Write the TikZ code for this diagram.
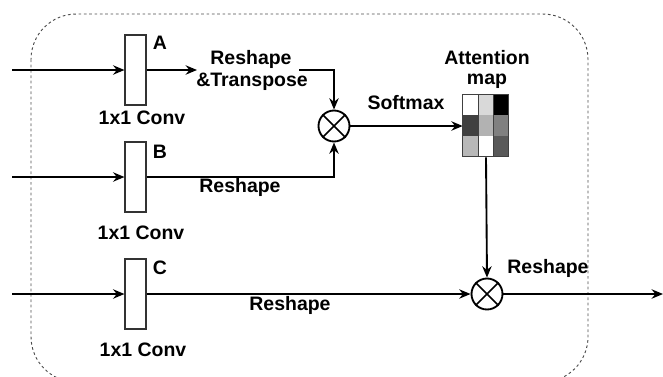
\documentclass[tikz,border=0pt]{standalone}
\usepackage{fontspec}
\setmainfont{Liberation Sans}
\usetikzlibrary{arrows.meta}
\begin{document}
\begin{tikzpicture}[x=0.75pt,y=-0.75pt,
  every node/.style={font=\fontsize{14.6}{16}\selectfont\bfseries, inner sep=0pt},
  conv/.style={draw=black!80, line width=0.8pt, minimum width=15.75pt, minimum height=52.5pt, fill=white},
  mul/.style={draw, circle, line width=1.4pt, minimum size=23.25pt},
  conn/.style={line width=1.4pt, -{Stealth[length=8.5pt,width=7pt]}},
  lbl/.style={anchor=center}
]
\useasboundingbox (0,0) rectangle (663,376);
\draw[black!70, line width=0.7pt, dash pattern=on 2pt off 2pt, rounded corners=34pt] (31,14) rectangle (588,382);

% conv boxes
\node[conv] (convA) at (135.5,70) {};
\node[conv] (convB) at (135.5,177) {};
\node[conv] (convC) at (135.5,294) {};
\node[lbl] (lA) at (160,43) {A};
\node[lbl] (lB) at (160,152) {B};
\node[lbl] (lC) at (160,268) {C};
\node[lbl] (cA) at (142,118) {1x1 Conv};
\node[lbl] (cB) at (141,233) {1x1 Conv};
\node[lbl] (cC) at (143,350) {1x1 Conv};

% inputs
\coordinate (inA) at (12,70);
\coordinate (inB) at (12,177);
\coordinate (inC) at (12,294);
\draw[conn] (inA) -- (convA.west);
\draw[conn] (inB) -- (convB.west);
\draw[conn] (inC) -- (convC.west);

% multiplications
\node[mul] (mul1) at (334,126) {};
\draw[line width=1.2pt] (mul1.north west) -- (mul1.south east) (mul1.north east) -- (mul1.south west);
\node[mul] (mul2) at (487,294) {};
\draw[line width=1.2pt] (mul2.north west) -- (mul2.south east) (mul2.north east) -- (mul2.south west);

% branch A
\coordinate (aTip) at (197,70);
\draw[conn] (convA.east) -- (aTip);
\node[lbl] (tR) at (251,59) {Reshape};
\node[lbl] (tT) at (252,82) {\&Transpose};
\coordinate (aStart) at (299,70);
\draw[conn] (aStart) -| (mul1.north);

% branch B
\draw[conn] (convB.east) -| (mul1.south);
\node[lbl] (tB) at (240,187) {Reshape};

% attention map
\node[draw=none, minimum width=34.5pt, minimum height=46.5pt] (grid) at (486,126) {};
\node[lbl] (att1) at (487,58) {Attention};
\node[lbl] (att2) at (487,81) {map};
\draw[conn] (mul1.east) -- (grid.west);
\node[lbl] (sm) at (406,103) {Softmax};
\begin{scope}[shift={(grid.north west)}]
  \def\cw{15.33}\def\ch{20.67}
  \foreach \r/\c/\col in {0/0/white,0/1/black!15,0/2/black,
                          1/0/black!75,1/1/black!30,1/2/black!50,
                          2/0/black!28,2/1/white,2/2/black!65}{
    \fill[\col] (\c*\cw,\r*\ch) rectangle ++(\cw,\ch);
  }
  \draw[black!75, line width=0.8pt] (0,0) grid[xstep=15.33,ystep=20.67] (46,62);
  \draw[black!75, line width=0.8pt] (0,0) rectangle (46,62);
\end{scope}
\draw[conn] (grid.south) -- (mul2.north);

% branch C
\draw[conn] (convC.east) -- (mul2.west);
\node[lbl] (tC) at (290,305) {Reshape};

% output
\coordinate (out) at (663,294);
\draw[conn] (mul2.east) -- (out);
\node[lbl] (tO) at (548,268) {Reshape};
\end{tikzpicture}
\end{document}
